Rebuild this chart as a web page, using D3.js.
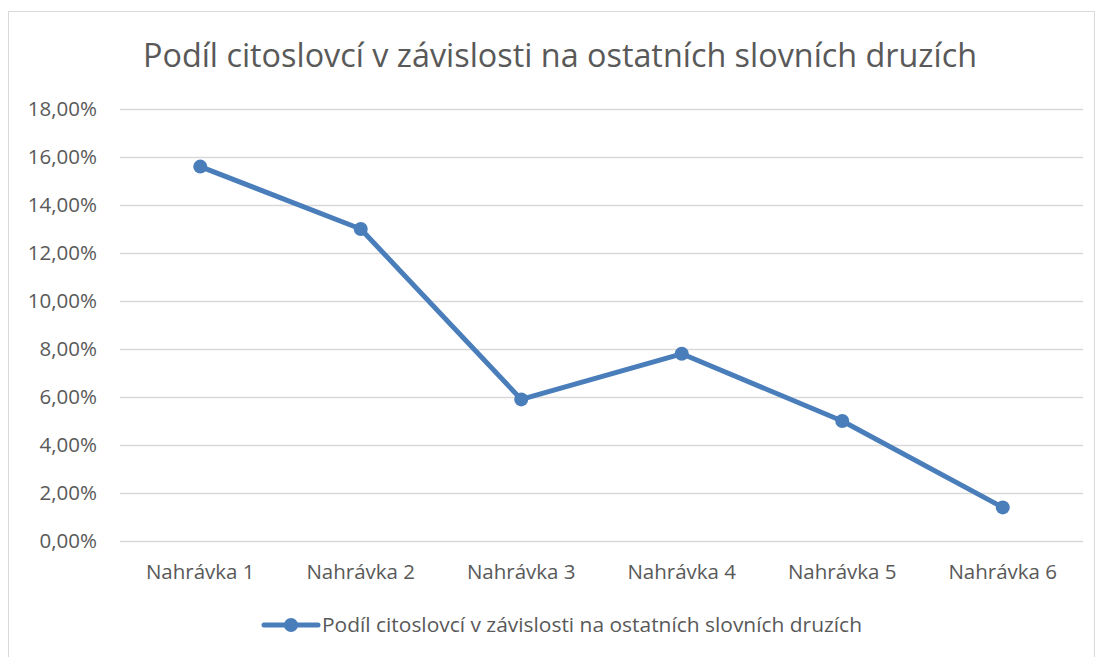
<!DOCTYPE html>
<html>
<head>
<meta charset="utf-8">
<script src="https://cdn.jsdelivr.net/npm/d3@7"></script>
<style>
  body { margin: 0; background: #fff; }
  text { font-family: "Open Sans", "Noto Sans", sans-serif; fill: #595959; }
</style>
</head>
<body>
<svg width="1098" height="657"></svg>
<script>
const TITLE = "Podíl citoslovcí v závislosti na ostatních slovních druzích";
const categories = ["Nahrávka 1", "Nahrávka 2", "Nahrávka 3", "Nahrávka 4", "Nahrávka 5", "Nahrávka 6"];
const values = [0.156, 0.130, 0.059, 0.078, 0.050, 0.014];
const yTicks = [0, 0.02, 0.04, 0.06, 0.08, 0.10, 0.12, 0.14, 0.16, 0.18];

const LINE_COLOR = "#4a7ebb";
const margin = {left: 120, right: 1083, top: 109, bottom: 541};

const svg = d3.select("svg");

// chart frame
svg.append("rect")
  .attr("x", 8.5).attr("y", 11.5)
  .attr("width", 1086).attr("height", 660)
  .attr("fill", "none").attr("stroke", "#d9d9d9");

const x = d3.scaleBand().domain(categories).range([margin.left, margin.right]);
const y = d3.scaleLinear().domain([0, 0.18]).range([margin.bottom, margin.top]);

const fmt = v => d3.format(".2f")(v * 100).replace(".", ",") + "%";

// gridlines + y labels
const yAxis = svg.append("g")
  .attr("transform", `translate(${margin.left},0)`)
  .call(d3.axisLeft(y).tickValues(yTicks).tickFormat(fmt)
    .tickSize(-(margin.right - margin.left)).tickPadding(23));
yAxis.select(".domain").remove();
yAxis.selectAll("line").attr("stroke", "#d9d9d9").attr("stroke-width", 1.3);
yAxis.selectAll("text")
  .style("font-size", "20.5px").attr("fill", "#595959")
  .style("font-family", "'Open Sans', sans-serif");

// x labels
const xAxis = svg.append("g")
  .attr("transform", `translate(0,${margin.bottom})`)
  .call(d3.axisBottom(x).tickSize(0).tickPadding(23));
xAxis.select(".domain").remove();
xAxis.selectAll("text")
  .style("font-size", "20.5px").attr("fill", "#595959")
  .style("font-family", "'Open Sans', sans-serif");

// line
const line = d3.line()
  .x((d, i) => x(categories[i]) + x.bandwidth() / 2)
  .y(d => y(d));

svg.append("path")
  .datum(values)
  .attr("d", line)
  .attr("fill", "none")
  .attr("stroke", LINE_COLOR)
  .attr("stroke-width", 5)
  .attr("stroke-linejoin", "round");

svg.selectAll(".dot")
  .data(values)
  .enter().append("circle")
  .attr("class", "dot")
  .attr("cx", (d, i) => x(categories[i]) + x.bandwidth() / 2)
  .attr("cy", d => y(d))
  .attr("r", 7)
  .attr("fill", LINE_COLOR);

// title
svg.append("text")
  .attr("x", 560).attr("y", 67)
  .attr("text-anchor", "middle")
  .style("font-size", "33px")
  .attr("textLength", 834)
  .attr("lengthAdjust", "spacingAndGlyphs")
  .text(TITLE);

// legend
const lg = svg.append("g");
lg.append("line")
  .attr("x1", 264).attr("x2", 318).attr("y1", 625).attr("y2", 625)
  .attr("stroke", LINE_COLOR).attr("stroke-width", 5).attr("stroke-linecap", "round");
lg.append("circle").attr("cx", 291).attr("cy", 625).attr("r", 7).attr("fill", LINE_COLOR);
lg.append("text")
  .attr("x", 322).attr("y", 632)
  .style("font-size", "20px")
  .attr("textLength", 540)
  .attr("lengthAdjust", "spacingAndGlyphs")
  .text(TITLE);
</script>
</body>
</html>
